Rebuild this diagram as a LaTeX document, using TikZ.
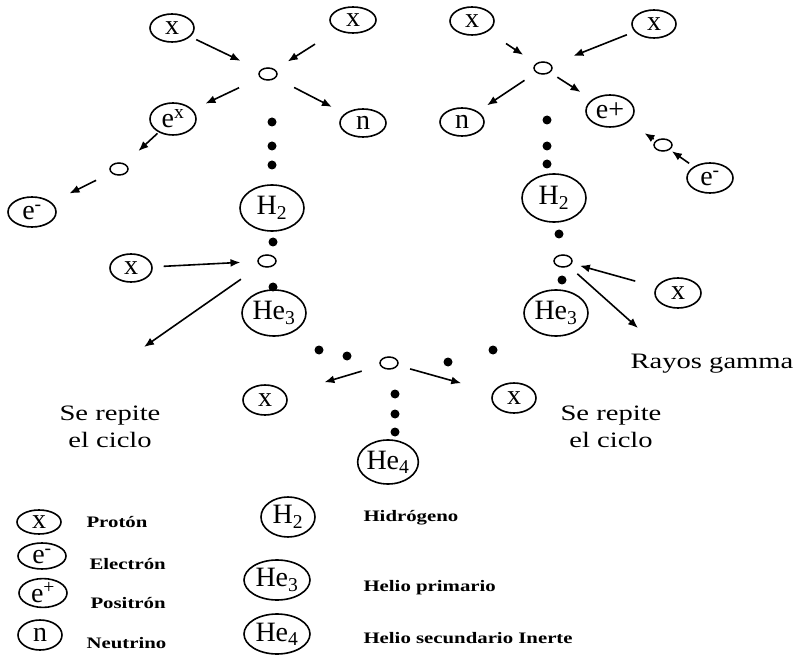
\documentclass[tikz,border=0pt]{standalone}
\usepackage{fontspec}
\setmainfont{Liberation Serif}
\newfontfamily\widefont[FakeStretch=1.3]{Liberation Serif}
\newfontfamily\legfont[FakeStretch=1.3]{Liberation Serif}
\usetikzlibrary{shapes.geometric,arrows.meta,calc}
\begin{document}
\begin{tikzpicture}[x=1pt,y=-1pt,
  part/.style={ellipse, draw, line width=1.6pt, inner sep=0pt, minimum width=44pt, minimum height=28pt, font=\fontsize{28}{28}\selectfont},
  big/.style={part, minimum width=64pt, minimum height=46pt},
  hole/.style={ellipse, draw, line width=1.5pt, minimum width=18pt, minimum height=12pt, inner sep=0pt},
  dot/.style={circle, fill, minimum size=9pt, inner sep=0pt},
  arr/.style={line width=1.6pt, -{Latex[length=10pt,width=8pt]}},
  lbl/.style={font=\widefont\fontsize{22}{27}\selectfont, align=center},
  leg/.style={font=\legfont\bfseries\fontsize{16}{16}\selectfont, anchor=west}]
\fill[white] (0,0) rectangle (803,668);
\useasboundingbox (0,0) rectangle (803,668);

% ---- left top group
\node[part] (X1) at (172,28) {x};
\node[part, minimum width=46pt, minimum height=26pt] (X2) at (353,20) {x};
\node[hole] (o1) at (268,74) {};
\node[part, minimum width=46pt, minimum height=32pt] (ex) at (173,119) {e\textsuperscript{x}};
\node[part, minimum width=46pt] (n1) at (363,123) {n};
\node[hole] (o2) at (119,169) {};
\node[part, minimum width=48pt, minimum height=30pt] (em1) at (32,212) {e\textsuperscript{-}};
\node[big] (H2a) at (272,208) {H\textsubscript{2}};
\node[part, minimum width=42pt] (X3) at (131,268) {x};
\node[hole] (o3) at (267,261) {};
\node[big] (He3a) at (274,313) {He\textsubscript{3}};
\coordinate (cyc1) at (144,347);
\foreach \y [count=\i] in {122,146,165} \node[dot] (da\i) at (272,\y) {};
\node[dot] (db1) at (273,242) {};
\node[dot] (db2) at (273,287) {};
\node[dot] (dc1) at (319,350) {};
\node[dot] (dc2) at (347,356) {};

% ---- bottom centre
\node[hole] (o4) at (389,363) {};
\node[part, minimum height=30pt] (X4) at (265,400) {x};
\node[part, minimum height=30pt] (X5) at (514,398) {x};
\foreach \y [count=\i] in {394,414,432} \node[dot] (dd\i) at (395,\y) {};
\node[big, minimum width=60pt, minimum height=44pt] (He4) at (388,462) {He\textsubscript{4}};

% ---- right group
\node[part] (X6) at (472,21) {x};
\node[part] (X7) at (654,24) {x};
\node[hole] (o5) at (543,68) {};
\node[part] (n2) at (462,122) {n};
\node[part, minimum width=48pt, minimum height=32pt] (ep) at (610,111) {e+};
\node[hole] (o6) at (663,145) {};
\node[part, minimum width=46pt, minimum height=30pt] (em2) at (710,178) {e\textsuperscript{-}};
\node[big, minimum height=48pt] (H2b) at (554,198) {H\textsubscript{2}};
\node[hole] (o7) at (563,261) {};
\node[part, minimum width=46pt, minimum height=30pt] (X8) at (678,293) {x};
\node[big] (He3b) at (556,313) {He\textsubscript{3}};
\coordinate (gam) at (638,328);
\foreach \y [count=\i] in {120,146,164} \node[dot] (de\i) at (547,\y) {};
\node[dot] (df1) at (559,234) {};
\node[dot] (df2) at (562,280) {};
\node[dot] (dg1) at (493,350) {};
\node[dot] (dg2) at (448,362) {};

% ---- arrows
\draw[arr] ($(X1)!26.9pt!(o1)$) -- ($(o1)!30.5pt!(X1)$);
\draw[arr] ($(X2)!45pt!(o1)$) -- ($(o1)!23.4pt!(X2)$);
\draw[arr] ($(o1)!32pt!(ex)$) -- ($(ex)!35.9pt!(o1)$);
\draw[arr] ($(o1)!29.4pt!(n1)$) -- ($(n1)!35pt!(o1)$);
\draw[arr] ($(ex)!21.2pt!(o2)$) -- ($(o2)!26.4pt!(ex)$);
\draw[arr] ($(o2)!25.6pt!(em1)$) -- ($(em1)!41.8pt!(o2)$);
\draw[arr] ($(X3)!32.6pt!(o3)$) -- ($(o3)!26.6pt!(X3)$);
\draw[arr] ($(o3)!31.8pt!(cyc1)$) -- (cyc1);
\draw[arr] ($(o4)!28.5pt!(X4)$) -- ($(X4)!62pt!(o4)$);
\draw[arr] ($(o4)!21.9pt!(X5)$) -- ($(X5)!54.8pt!(o4)$);
\draw[arr] ($(X6)!40.8pt!(o5)$) -- ($(o5)!23.7pt!(X6)$);
\draw[arr] ($(X7)!29.2pt!(o5)$) -- ($(o5)!32.7pt!(X7)$);
\draw[arr] ($(o5)!22.2pt!(n2)$) -- ($(n2)!30.1pt!(o5)$);
\draw[arr] ($(o5)!17pt!(ep)$) -- ($(ep)!35pt!(o5)$);
\draw[arr] ($(o6)!11pt!(ep)$) -- ($(ep)!41pt!(o6)$);
\draw[arr] ($(em2)!25.5pt!(o6)$) -- ($(o6)!10.8pt!(em2)$);
\draw[arr] ($(X8)!44.4pt!(o7)$) -- ($(o7)!17.5pt!(X8)$);
\draw[arr] ($(o7)!19.2pt!(gam)$) -- (gam);

% ---- texts
\node[lbl] (ray) at (712,364) {Rayos gamma};
\node[lbl] (rep1) at (110,427) {Se repite\\el ciclo};
\node[lbl] (rep2) at (611,427) {Se repite\\el ciclo};

% ---- legend
\node[part, minimum height=24pt] (LX) at (39,522) {x};
\node[part, minimum width=48pt, minimum height=26pt] (Lem) at (42,556) {e\textsuperscript{-}};
\node[part, minimum width=48pt] (Lep) at (43,593) {e\textsuperscript{+}};
\node[part, minimum height=30pt] (Ln) at (40,635) {n};
\node[leg] (tP) at (83,522) {Protón};
\node[leg] (tE) at (86,564) {Electrón};
\node[leg] (tPo) at (87,603) {Positrón};
\node[leg] (tN) at (83,643) {Neutrino};
\node[big, minimum width=54pt, minimum height=40pt] (LH2) at (288,517) {H\textsubscript{2}};
\node[big, minimum width=66pt, minimum height=40pt] (LHe3) at (277,580) {He\textsubscript{3}};
\node[big, minimum width=66pt, minimum height=40pt] (LHe4) at (277,634) {He\textsubscript{4}};
\node[leg] (tH) at (360,518) {Hidrógeno};
\node[leg] (tHe3) at (360,588) {Helio primario};
\node[leg] (tHe4) at (360,638) {Helio secundario Inerte};
\end{tikzpicture}
\end{document}
